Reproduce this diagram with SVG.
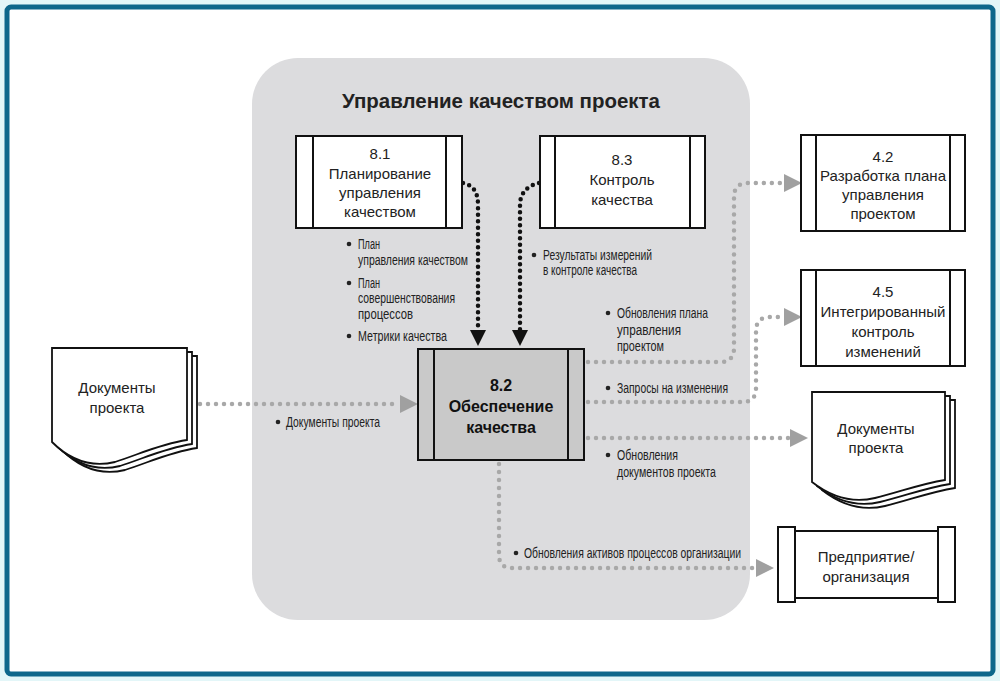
<svg xmlns="http://www.w3.org/2000/svg" width="1000" height="681" viewBox="0 0 1000 681">
<style>
.box{fill:#fff;stroke:#111;stroke-width:2}
.box2{fill:#c9c9c9;stroke:#111;stroke-width:2}
.ln{stroke:#111;stroke-width:2}
.bt{font-family:"Liberation Sans",Arial,sans-serif;font-size:15px;fill:#222;text-anchor:middle}
.btb{font-family:"Liberation Sans",Arial,sans-serif;font-size:16px;font-weight:bold;fill:#111;text-anchor:middle}
.lb{font-family:"Liberation Sans",Arial,sans-serif;font-size:14px;fill:#222}
.bk{fill:none;stroke:#111;stroke-width:4.5;stroke-linecap:round;stroke-dasharray:0 6.5}
.gr{fill:none;stroke:#a8a8a8;stroke-width:4.5;stroke-linecap:round;stroke-dasharray:0 8}
.ga{fill:#a0a0a0}
.doc{fill:#fff;stroke:#111;stroke-width:1.8}
</style>
<rect width="1000" height="681" fill="#e3f6f8"/>
<rect x="7" y="7" width="986" height="667" rx="4" fill="#fff" stroke="#0e678b" stroke-width="5"/>
<rect x="252" y="58" width="498" height="562" rx="46" fill="#dcdcde"/>
<text x="501" y="108" font-family="Liberation Sans,Arial,sans-serif" font-size="20" font-weight="bold" fill="#222" text-anchor="middle" textLength="318" lengthAdjust="spacingAndGlyphs">Управление качеством проекта</text>

<g id="connectors">
<path class="bk" d="M463,183 C473,185 478,192 478,205 V330"/>
<polygon points="470,330 486,330 478,346" fill="#111"/>
<path class="bk" d="M539,183 C529,185 520,192 520,205 V330"/>
<polygon points="512,330 528,330 520,346" fill="#111"/>
<path class="gr" d="M588,362 H720 Q734,362 734,348 V197 Q734,183 748,183 H784"/>
<polygon class="ga" points="784,174 802,183 784,192"/>
<path class="gr" d="M588,402 H742 Q756,402 756,388 V331 Q756,317 770,317 H784"/>
<polygon class="ga" points="784,308 802,317 784,326"/>
<path class="gr" d="M588,438 H790"/>
<polygon class="ga" points="790,429 808,438 790,447"/>
<path class="gr" d="M499,464 V555 Q499,568 512,568 H756"/>
<polygon class="ga" points="756,559 774,568 756,577"/>
<path class="gr" d="M200,404 H400"/>
<polygon class="ga" points="400,395 418,404 400,413"/>
</g>

<g id="labels">
<circle cx="349" cy="244" r="2.3" fill="#222"/>
<text class="lb" x="358" y="249" textLength="22" lengthAdjust="spacingAndGlyphs">План</text>
<text class="lb" x="358" y="265" textLength="110" lengthAdjust="spacingAndGlyphs">управления качеством</text>
<circle cx="349" cy="283" r="2.3" fill="#222"/>
<text class="lb" x="358" y="288" textLength="22" lengthAdjust="spacingAndGlyphs">План</text>
<text class="lb" x="358" y="303" textLength="97" lengthAdjust="spacingAndGlyphs">совершенствования</text>
<text class="lb" x="358" y="319" textLength="55" lengthAdjust="spacingAndGlyphs">процессов</text>
<circle cx="349" cy="336" r="2.3" fill="#222"/>
<text class="lb" x="358" y="341" textLength="89" lengthAdjust="spacingAndGlyphs">Метрики качества</text>
<circle cx="534" cy="255" r="2.3" fill="#222"/>
<text class="lb" x="543" y="260" textLength="109" lengthAdjust="spacingAndGlyphs">Результаты измерений</text>
<text class="lb" x="543" y="275" textLength="94" lengthAdjust="spacingAndGlyphs">в контроле качества</text>
<circle cx="608" cy="313" r="2.3" fill="#222"/>
<text class="lb" x="617" y="318" textLength="91" lengthAdjust="spacingAndGlyphs">Обновления плана</text>
<text class="lb" x="617" y="335" textLength="64" lengthAdjust="spacingAndGlyphs">управления</text>
<text class="lb" x="617" y="351" textLength="47" lengthAdjust="spacingAndGlyphs">проектом</text>
<circle cx="608" cy="388" r="2.3" fill="#222"/>
<text class="lb" x="617" y="393" textLength="111" lengthAdjust="spacingAndGlyphs">Запросы на изменения</text>
<circle cx="608" cy="455" r="2.3" fill="#222"/>
<text class="lb" x="617" y="460" textLength="61" lengthAdjust="spacingAndGlyphs">Обновления</text>
<text class="lb" x="617" y="477" textLength="99" lengthAdjust="spacingAndGlyphs">документов проекта</text>
<circle cx="278" cy="422" r="2.3" fill="#222"/>
<text class="lb" x="286" y="427" textLength="94" lengthAdjust="spacingAndGlyphs">Документы проекта</text>
<circle cx="516" cy="553" r="2.3" fill="#222"/>
<text class="lb" x="524" y="558" textLength="217" lengthAdjust="spacingAndGlyphs">Обновления активов процессов организации</text>
</g>

<g id="n81">
<rect class="box" x="296" y="136" width="166" height="92"/>
<line class="ln" x1="313" y1="136" x2="313" y2="228"/>
<line class="ln" x1="446" y1="136" x2="446" y2="228"/>
<text class="bt" x="380" y="159">8.1</text>
<text class="bt" x="380" y="179">Планирование</text>
<text class="bt" x="380" y="198">управления</text>
<text class="bt" x="380" y="217">качеством</text>
</g>

<g id="n83">
<rect class="box" x="540" y="136" width="165" height="92"/>
<line class="ln" x1="555" y1="136" x2="555" y2="228"/>
<line class="ln" x1="690" y1="136" x2="690" y2="228"/>
<text class="bt" x="622" y="165">8.3</text>
<text class="bt" x="622" y="185">Контроль</text>
<text class="bt" x="622" y="205">качества</text>
</g>

<g id="n82">
<rect class="box2" x="418" y="349" width="166" height="111"/>
<line class="ln" x1="434" y1="349" x2="434" y2="460"/>
<line class="ln" x1="568" y1="349" x2="568" y2="460"/>
<text class="btb" x="501" y="391">8.2</text>
<text class="btb" x="501" y="412">Обеспечение</text>
<text class="btb" x="501" y="433">качества</text>
</g>

<g id="n42">
<rect class="box" x="801" y="135" width="164" height="96"/>
<line class="ln" x1="816" y1="135" x2="816" y2="231"/>
<line class="ln" x1="950" y1="135" x2="950" y2="231"/>
<text class="bt" x="883" y="162">4.2</text>
<text class="bt" x="883" y="181">Разработка плана</text>
<text class="bt" x="883" y="200">управления</text>
<text class="bt" x="883" y="219">проектом</text>
</g>

<g id="n45">
<rect class="box" x="801" y="270" width="164" height="96"/>
<line class="ln" x1="816" y1="270" x2="816" y2="366"/>
<line class="ln" x1="950" y1="270" x2="950" y2="366"/>
<text class="bt" x="883" y="297">4.5</text>
<text class="bt" x="883" y="317">Интегрированный</text>
<text class="bt" x="883" y="337">контроль</text>
<text class="bt" x="883" y="357">изменений</text>
</g>

<g id="docLeft">
<path class="doc" d="M62,356 H197 V448 C170,452 150,462 125,470 C100,476 80,468 62,450 Z"/>
<path class="doc" d="M57,352 H192 V444 C165,448 145,458 120,466 C95,472 75,464 57,446 Z"/>
<path class="doc" d="M52,348 H187 V440 C160,444 140,454 115,462 C90,468 70,460 52,442 Z"/>
<text class="bt" x="117" y="393">Документы</text>
<text class="bt" x="117" y="413">проекта</text>
</g>

<g id="docRight">
<path class="doc" d="M822,400 H955 V488 C930,492 910,500 885,506 C860,512 840,504 822,490 Z"/>
<path class="doc" d="M817,396 H950 V484 C925,488 905,496 880,502 C855,508 835,500 817,486 Z"/>
<path class="doc" d="M812,392 H945 V480 C920,484 900,492 875,498 C850,504 830,496 812,482 Z"/>
<text class="bt" x="876" y="434">Документы</text>
<text class="bt" x="876" y="453">проекта</text>
</g>

<g id="enterprise">
<rect class="box" x="795" y="531" width="143" height="67"/>
<rect class="box" x="778" y="527" width="17" height="75"/>
<rect class="box" x="938" y="527" width="17" height="75"/>
<text class="bt" x="866" y="562">Предприятие/</text>
<text class="bt" x="866" y="582">организация</text>
</g>
</svg>
